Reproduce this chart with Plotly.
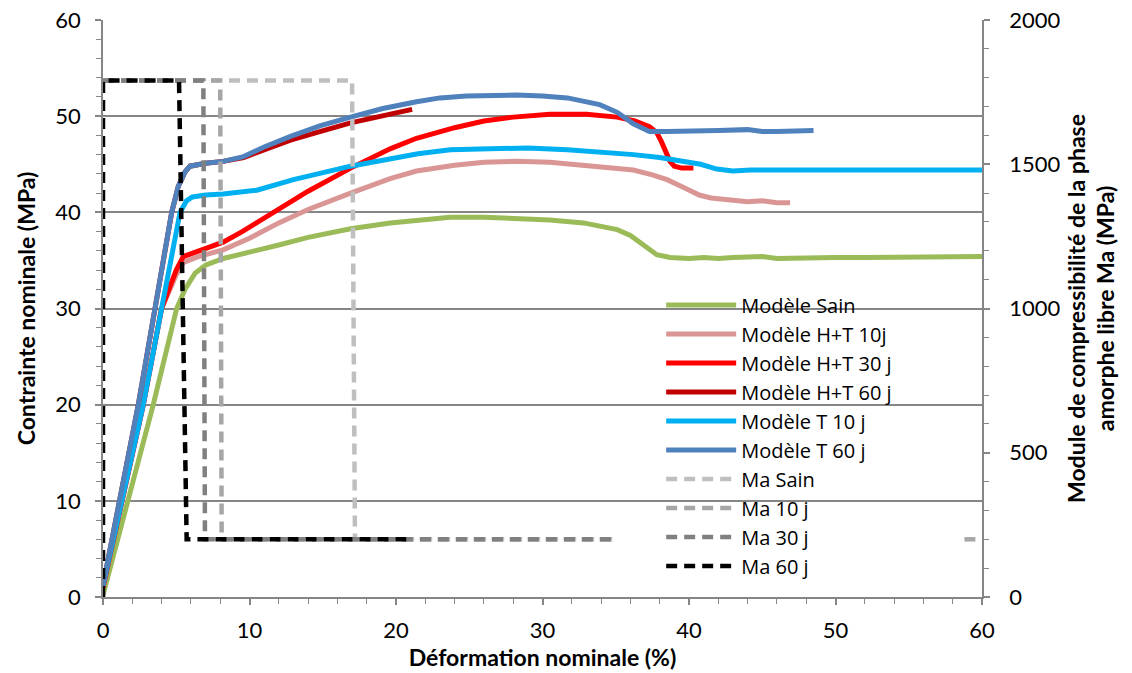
import plotly.graph_objects as go

# ---------------- data ----------------
sain_x = [0, 1.73, 3.43, 5.03, 5.6, 6.3, 7.0, 8.2, 10, 12, 14, 16.9, 19.6, 21.5, 23.7, 26, 28.2, 30.5, 32.8, 34, 35.1, 36,
          36.7, 37.3, 37.8, 38.7, 40, 41, 42, 43, 44, 45, 46, 48, 50, 52, 54, 56, 58, 60]
sain_y = [0.2, 10, 20, 30, 32, 33.7, 34.5, 35.2, 35.8, 36.6, 37.4, 38.3, 38.9, 39.2, 39.5, 39.5, 39.4, 39.2, 38.9, 38.6,
          38.2, 37.6, 36.8, 36.1, 35.6, 35.3, 35.2, 35.3, 35.2, 35.3, 35.4, 35.4, 35.2, 35.3, 35.3, 35.3, 35.3, 35.3,
          35.4, 35.4]

ht10_x = [0, 2.75, 4.0, 5.0, 5.5, 6.5, 8.2, 10, 12, 14, 16.9, 19.6, 21.4, 24, 26, 28.2, 30.5, 32.8, 34.5, 36.2, 37.5,
          38.5, 39.6, 40.7, 41.5, 43, 44, 45, 46, 46.9]
ht10_y = [1.0, 20, 30, 33.5, 34.8, 35.4, 36.1, 37.3, 38.9, 40.3, 42.0, 43.5, 44.3, 44.9, 45.2, 45.3, 45.2, 44.9, 44.7,
          44.4, 43.9, 43.4, 42.6, 41.8, 41.5, 41.3, 41.1, 41.2, 41.0, 41.0]

ht30_x = [0, 2.75, 4.0, 5.0, 5.48, 6.2, 7.1, 8.2, 9.5, 11.6, 14, 16.9, 19.6, 21.4, 24, 26, 28, 30.5, 33, 35.1, 36.3,
          37.3, 37.8, 38.1, 38.4, 38.7, 39.0, 39.5, 40.1, 40.3]
ht30_y = [1.0, 20, 30, 34, 35.4, 35.8, 36.3, 36.9, 38.0, 39.9, 42.2, 44.6, 46.6, 47.7, 48.8, 49.5, 49.9, 50.2, 50.2,
          49.9, 49.5, 48.9, 48.3, 47.4, 46.2, 45.3, 44.8, 44.6, 44.6, 44.6]

ht60_x = [0, 2.41, 4.69, 5.14, 5.6, 5.94, 7.0, 8.2, 9.6, 11, 12.8, 14.8, 16.9, 19, 21.1]
ht60_y = [1.2, 20, 40, 42.7, 44.2, 44.8, 45.1, 45.3, 45.7, 46.5, 47.5, 48.4, 49.3, 50.0, 50.7]

t10_x = [0, 2.75, 4.0, 5.26, 5.7, 6.1, 7.0, 8.2, 10.5, 13, 16.9, 19.6, 21.5, 23.7, 27.1, 29, 31.7, 34, 36.2, 38, 39.6,
         40.8, 41.9, 43, 44.2, 46, 48, 50, 52, 54, 56, 58, 60]
t10_y = [1.2, 20, 30, 40, 41.2, 41.6, 41.8, 41.9, 42.3, 43.4, 44.8, 45.6, 46.1, 46.5, 46.7, 46.7, 46.5, 46.3, 46.0, 45.7,
         45.3, 45.0, 44.5, 44.3, 44.4, 44.4, 44.3, 44.4, 44.3, 44.4, 44.4, 44.4, 44.4]

t60_x = [0, 2.41, 4.69, 5.14, 5.6, 5.94, 7.0, 8.2, 9.6, 11, 12.8, 14.8, 16.9, 19.1, 21.4, 23, 24.8, 26.5, 28.2, 30,
         31.7, 33.9, 35.1, 36.2, 37.3, 38.5, 40, 42, 44, 45, 46, 48.5]
t60_y = [1.2, 20, 40, 42.7, 44.2, 44.8, 45.1, 45.3, 45.8, 46.8, 47.9, 49.0, 49.9, 50.8, 51.5, 51.9, 52.1, 52.2, 52.2,
         52.1, 51.9, 51.2, 50.4, 49.2, 48.4, 48.4, 48.4, 48.5, 48.6, 48.4, 48.4, 48.5]

ma_sain_x = [0, 17.0, 17.2, 35.1]
ma_sain_y = [1790, 1790, 200, 200]
ma10_x = [0, 8.0, 8.1, 35.1, None, 58.8, 60]
ma10_y = [1790, 1790, 200, 200, None, 200, 200]
ma30_x = [0, 6.85, 6.96, 35.1]
ma30_y = [1790, 1790, 200, 200]
ma60_x = [0, 0, 5.19, 5.71, 20.7]
ma60_y = [0, 1790, 1790, 200, 200]

grid_vals = [10, 20, 30, 40, 50]

FONT = "Lato"
LEGFONT = "Open Sans"
AX = "#868686"

fig = go.Figure()

# invisible trace so that the grid-only axis is drawn
fig.add_trace(go.Scatter(x=[None], y=[None], yaxis="y3", showlegend=False, hoverinfo="skip"))

solid = [
    ("Modèle Sain", sain_x, sain_y, "#9BBB59"),
    ("Modèle H+T 10j", ht10_x, ht10_y, "#D99694"),
    ("Modèle H+T 30 j", ht30_x, ht30_y, "#FF0000"),
    ("Modèle H+T 60 j", ht60_x, ht60_y, "#C00000"),
    ("Modèle T 10 j", t10_x, t10_y, "#00B0F0"),
    ("Modèle T 60 j", t60_x, t60_y, "#4F81BD"),
]
for name, xs, ys, c in solid:
    fig.add_trace(go.Scatter(x=xs, y=ys, name=name, mode="lines",
                             line=dict(color=c, width=5), yaxis="y"))

dashed = [
    ("Ma Sain", ma_sain_x, ma_sain_y, "#BFBFBF"),
    ("Ma 10 j", ma10_x, ma10_y, "#A6A6A6"),
    ("Ma 30 j", ma30_x, ma30_y, "#808080"),
    ("Ma 60 j", ma60_x, ma60_y, "#000000"),
]
for name, xs, ys, c in dashed:
    fig.add_trace(go.Scatter(x=xs, y=ys, name=name, mode="lines", connectgaps=False,
                             line=dict(color=c, width=4.5, dash="11px,7px"), yaxis="y2"))

tickfont = dict(family=FONT, size=22, color="#000000")
titlefont = dict(family=FONT, size=23, color="#000000", weight="bold")

fig.update_layout(
    width=1132, height=673,
    margin=dict(l=103, r=150, t=20, b=76),
    paper_bgcolor="white", plot_bgcolor="white",
    font=dict(family=FONT, color="#000000"),
    showlegend=True,
    legend=dict(x=0.635, y=0.54, xanchor="left", yanchor="top",
                bgcolor="rgba(255,255,255,0)", font=dict(family=LEGFONT, size=20),
                tracegroupgap=0, itemwidth=70),
    xaxis=dict(range=[0, 60], dtick=10, showgrid=False, zeroline=False, automargin=False,
               showline=True, linecolor=AX, linewidth=1.5,
               ticks="outside", ticklen=6, tickcolor=AX, tickwidth=1.5,
               minor=dict(dtick=2, ticks="outside", ticklen=5, tickcolor=AX, tickwidth=1),
               tickfont=tickfont, ticklabelstandoff=7,
               title=dict(text="Déformation nominale (%)", font=titlefont, standoff=1)),
    yaxis=dict(range=[0, 60], dtick=10, showgrid=False, zeroline=False, automargin=False,
               showline=True, linecolor=AX, linewidth=1.5,
               ticks="outside", ticklen=6, tickcolor=AX, tickwidth=1.5,
               minor=dict(dtick=2, ticks="outside", ticklen=5, tickcolor=AX, tickwidth=1),
               tickfont=tickfont, ticklabelstandoff=10,
               title=dict(text="Contrainte nominale (MPa)", font=titlefont, standoff=13)),
    yaxis2=dict(range=[0, 2000], dtick=500, overlaying="y", side="right", automargin=False,
                showgrid=False, zeroline=False,
                showline=True, linecolor=AX, linewidth=1.5,
                ticks="outside", ticklen=6, tickcolor=AX, tickwidth=1.5,
                minor=dict(dtick=100, ticks="outside", ticklen=5, tickcolor=AX, tickwidth=1),
                tickfont=tickfont, ticklabelstandoff=15,
                title=dict(text="Module de compressibilité de la phase<br>amorphe libre Ma (MPa)",
                           font=titlefont, standoff=9)),
    yaxis3=dict(range=[0, 60], overlaying="y", side="left", showticklabels=False, automargin=False,
                tickvals=grid_vals, ticks="", showgrid=True,
                gridcolor=AX, gridwidth=1.5, zeroline=False, showline=False),
)

fig.write_html("out.html", config={"displayModeBar": False},
               post_script="document.body.style.margin='0';document.body.style.overflow='hidden';")
